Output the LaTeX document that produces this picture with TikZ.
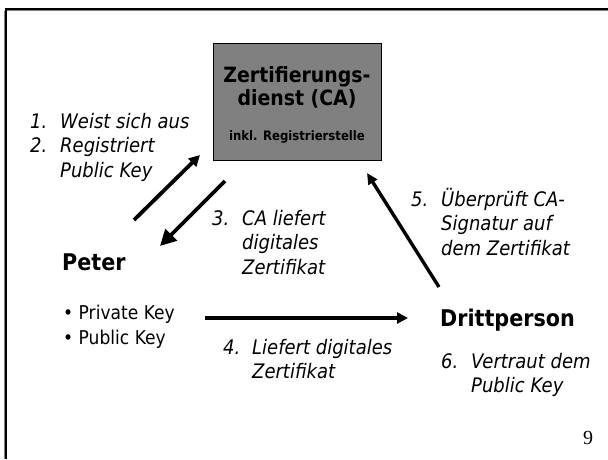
\documentclass[tikz,border=0pt]{standalone}
\usepackage{fontspec}
\setmainfont{DejaVu Sans}[FakeStretch=0.9]
\newfontfamily\numfont{Liberation Serif}
\usetikzlibrary{arrows.meta}
\definecolor{boxgray}{HTML}{808080}
\tikzset{
  lbl/.style={anchor=base west, inner sep=0pt, font=\fontsize{20}{24.5}\selectfont\itshape},
  bigname/.style={anchor=base west, inner sep=0pt, font=\fontsize{23}{27}\selectfont\bfseries},
  keys/.style={anchor=base west, inner sep=0pt, font=\fontsize{19}{25}\selectfont},
  flow/.style={line width=3.8pt},
}
\begin{document}
\begin{tikzpicture}[x=1pt,y=-1pt]
\useasboundingbox (0,0) rectangle (608,459);
% slide frame
\draw[gray, line width=1pt] (4.5,11) -- (4.5,459);
\draw[gray, line width=1pt] (6,10.5) -- (608,10.5);
\draw[black, line width=2.4pt] (6,9) -- (608,9);
\draw[black, line width=2.4pt] (6.2,8) -- (6.2,459);
% CA box
\node[draw=black, line width=0.8pt, fill=boxgray, minimum width=168pt, minimum height=117pt, inner sep=0pt] (ca) at (297,101.5) {};
\node[anchor=base, inner sep=0pt, font=\fontsize{21}{21}\selectfont\bfseries] (ca1) at (297,82) {Zertifierungs-};
\node[anchor=base, inner sep=0pt, font=\fontsize{21}{21}\selectfont\bfseries] (ca2) at (297,105) {dienst (CA)};
\node[anchor=base, inner sep=0pt, font=\fontsize{13}{13}\selectfont\bfseries] (ca3) at (297,140) {inkl. Registrierstelle};
% actors
\node[bigname] (peter) at (62,270) {Peter};
\node[bigname] (dritt) at (440,326) {Drittperson};
\node[keys] (pk1) at (63,319) {\textbullet\ Private Key};
\node[keys] (pk2) at (63,344) {\textbullet\ Public Key};
% step labels
\node[lbl] (s12) at (30,128) {\begin{tabular}[t]{@{}p{30pt}@{}l@{}}1. & Weist sich aus\\ 2. & Registriert\\ & Public Key\end{tabular}};
\node[lbl] (s3) at (212,225) {\begin{tabular}[t]{@{}p{30pt}@{}l@{}}3. & CA liefert\\ & digitales\\ & Zertifikat\end{tabular}};
\node[lbl] (s4) at (223,354) {\begin{tabular}[t]{@{}p{29pt}@{}l@{}}4. & Liefert digitales\\ & Zertifikat\end{tabular}};
\node[lbl] (s5) at (411,206) {\begin{tabular}[t]{@{}p{30pt}@{}l@{}}5. & Überprüft CA-\\ & Signatur auf\\ & dem Zertifikat\end{tabular}};
\node[lbl] (s6) at (441,368) {\begin{tabular}[t]{@{}p{30pt}@{}l@{}}6. & Vertraut dem\\ & Public Key\end{tabular}};
% page number
\node[anchor=base, inner sep=0pt, font=\numfont\fontsize{20}{20}\selectfont] (pg) at (588,444) {9};
% arrow end points
\coordinate (a1s) at (134,220);
\coordinate (a1e) at (200,155);
\coordinate (a3s) at (225,181);
\coordinate (a3e) at (160,246);
\coordinate (a4s) at (205,318);
\coordinate (a4e) at (408,318);
\coordinate (a5s) at (439,287);
\coordinate (a5e) at (367,173);
\draw[flow, -{Triangle[length=11pt,width=11pt]}] (a1s) -- (a1e);
\draw[flow, -{Triangle[length=16pt,width=16pt]}] (a3s) -- (a3e);
\draw[flow, -{Triangle[length=11pt,width=11pt]}] (a4s) -- (a4e);
\draw[flow, line width=3.4pt, -{Triangle[length=11pt,width=10pt]}] (a5s) -- (a5e);
\end{tikzpicture}
\end{document}
